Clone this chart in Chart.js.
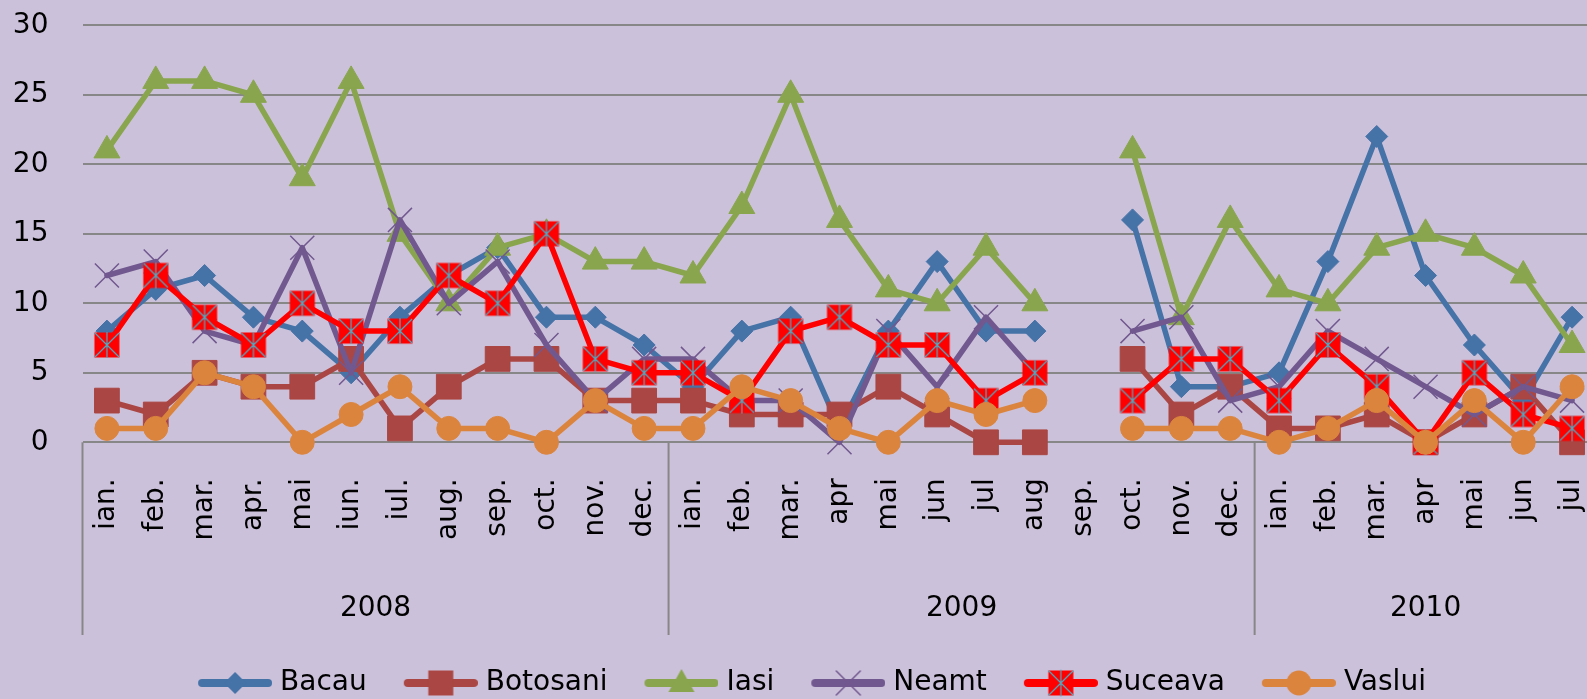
<!DOCTYPE html>
<html>
<head>
<meta charset="utf-8">
<script src="https://cdn.jsdelivr.net/npm/chart.js@4.4.1/dist/chart.umd.min.js"></script>
<style>
  html, body { margin: 0; padding: 0; background: #ccc1da; overflow: hidden; }
  #wrap { position: relative; width: 1615px; height: 699px; }
</style>
</head>
<body>
<div id="wrap"><canvas id="chart"></canvas></div>
<script>
// month labels, 2008 jan .. 2010 jul
const months = ['ian.', 'feb.', 'mar.', 'apr.', 'mai', 'iun.', 'iul.', 'aug.', 'sep.', 'oct.', 'nov.', 'dec.',
                'ian.', 'feb.', 'mar.', 'apr', 'mai', 'jun', 'jul', 'aug', 'sep.', 'oct.', 'nov.', 'dec.',
                'ian.', 'feb.', 'mar.', 'apr', 'mai', 'jun', 'jul'];
const years = ['2008', '2009', '2010'];
const yearLengths = [12, 12, 7];
const yTicks = [0, 5, 10, 15, 20, 25, 30];

const bacau    = [8, 11, 12, 9, 8, 5, 9, 12, 14, 9, 9, 7,   4, 8, 9, 1, 8, 13, 8, 8, null, 16, 4, 4,   5, 13, 22, 12, 7, 3, 9];
const botosani = [3, 2, 5, 4, 4, 6, 1, 4, 6, 6, 3, 3,      3, 2, 2, 2, 4, 2, 0, 0, null, 6, 2, 4,     1, 1, 2, 0, 2, 4, 0];
const iasi     = [21, 26, 26, 25, 19, 26, 15, 10, 14, 15, 13, 13,  12, 17, 25, 16, 11, 10, 14, 10, null, 21, 9, 16,  11, 10, 14, 15, 14, 12, 7];
const neamt    = [12, 13, 8, 7, 14, 5, 16, 10, 13, 7, 3, 6,  6, 3, 3, 0, 8, 4, 9, 5, null, 8, 9, 3,     4, 8, 6, 4, 2, 4, 3];
const suceava  = [7, 12, 9, 7, 10, 8, 8, 12, 10, 15, 6, 5,   5, 3, 8, 9, 7, 7, 3, 5, null, 3, 6, 6,     3, 7, 4, 0, 5, 2, 1];
const vaslui   = [1, 1, 5, 4, 0, 2, 4, 1, 1, 0, 3, 1,        1, 4, 3, 1, 0, 3, 2, 3, null, 1, 1, 1,     0, 1, 3, 0, 3, 0, 4];

const FONT = 'DejaVu Sans';
const TEAL = '#4bacc6';

function paintMarker(c, kind, x, y, color) {
    c.save();
    c.fillStyle = color;
    c.strokeStyle = color;
    c.beginPath();
    if (kind === 'diamond') {
        c.moveTo(x, y - 11); c.lineTo(x + 11, y); c.lineTo(x, y + 11); c.lineTo(x - 11, y);
        c.closePath(); c.fill();
    } else if (kind === 'square') {
        c.rect(x - 12.5, y - 12.5, 25, 25); c.fill();
    } else if (kind === 'triangle') {
        c.moveTo(x, y - 14); c.lineTo(x + 13, y + 9); c.lineTo(x - 13, y + 9);
        c.closePath(); c.fill();
    } else if (kind === 'cross') {
        c.lineWidth = 1.5;
        c.moveTo(x - 12, y - 12); c.lineTo(x + 12, y + 12);
        c.moveTo(x + 12, y - 12); c.lineTo(x - 12, y + 12);
        c.stroke();
    } else if (kind === 'star') {
        c.fillStyle = '#ff0000';
        c.fillRect(x - 12.5, y - 12.5, 25, 25);
        c.strokeStyle = TEAL;
        c.lineWidth = 1.2;
        c.moveTo(x - 12, y - 12); c.lineTo(x + 12, y + 12);
        c.moveTo(x + 12, y - 12); c.lineTo(x - 12, y + 12);
        c.moveTo(x, y - 13); c.lineTo(x, y + 13);
        c.stroke();
    } else if (kind === 'circle') {
        c.arc(x, y, 12.5, 0, Math.PI * 2); c.fill();
    }
    c.restore();
}

// red box marker with teal asterisk, used for Suceava points
const starImg = document.createElement('canvas');
starImg.width = 28; starImg.height = 28;
paintMarker(starImg.getContext('2d'), 'star', 14, 14, '#ff0000');

function legendIcon(kind, color) {
    const cv = document.createElement('canvas');
    cv.width = 107; cv.height = 30;
    const c = cv.getContext('2d');
    c.strokeStyle = color;
    c.lineWidth = 8;
    c.lineCap = 'round';
    c.beginPath(); c.moveTo(37, 15); c.lineTo(103, 15); c.stroke();
    paintMarker(c, kind, 70, 15, color);
    return cv;
}

const seriesDefs = [
    { label: 'Bacau',    data: bacau,    color: '#4572a7', kind: 'diamond',  style: 'rectRot',  radius: 11 },
    { label: 'Botosani', data: botosani, color: '#aa4643', kind: 'square',   style: 'rect',     radius: 17.5 },
    { label: 'Iasi',     data: iasi,     color: '#89a54e', kind: 'triangle', style: 'triangle', radius: 15 },
    { label: 'Neamt',    data: neamt,    color: '#71588f', kind: 'cross',    style: 'crossRot', radius: 17 },
    { label: 'Suceava',  data: suceava,  color: '#ff0000', kind: 'star',     style: starImg,    radius: 12 },
    { label: 'Vaslui',   data: vaslui,   color: '#db843d', kind: 'circle',   style: 'circle',   radius: 12 }
];
const legendIcons = seriesDefs.map(s => legendIcon(s.kind, s.color));

const datasets = seriesDefs.map((s, i) => ({
    label: s.label,
    data: s.data,
    borderColor: s.color,
    backgroundColor: s.color,
    borderWidth: 5.5,
    borderJoinStyle: 'round',
    borderCapStyle: 'round',
    pointStyle: s.style,
    pointRadius: s.radius,
    pointBorderWidth: s.kind === 'cross' ? 1.5 : 1,
    pointBackgroundColor: s.color,
    pointBorderColor: s.color,
    spanGaps: false,
    clip: false,
    order: seriesDefs.length - i
}));

// year row under the month labels, with the group separators
const yearRow = {
    id: 'yearRow',
    afterLayout(chart) {
        // the canvas is a bit wider than the window, pull the legend back to the visible centre
        chart.legend.left -= 9;
        chart.legend.right -= 9;
    },
    afterDraw(chart) {
        const ctx = chart.ctx;
        const x = chart.scales.x;
        const top = chart.chartArea.bottom;
        const half = (x.getPixelForValue(1) - x.getPixelForValue(0)) / 2;
        ctx.save();
        ctx.strokeStyle = '#878787';
        ctx.lineWidth = 2;
        ctx.fillStyle = '#000';
        ctx.font = '28px "' + FONT + '"';
        ctx.textAlign = 'center';
        ctx.textBaseline = 'middle';
        let start = 0;
        years.forEach((yr, k) => {
            const end = start + yearLengths[k] - 1;
            const left = x.getPixelForValue(start) - half;
            const right = x.getPixelForValue(end) + half;
            ctx.beginPath();
            ctx.moveTo(left, top); ctx.lineTo(left, 635);
            if (k === years.length - 1) { ctx.moveTo(right, top); ctx.lineTo(right, 635); }
            ctx.stroke();
            ctx.fillText(yr, (left + right) / 2, 609);
            start = end + 1;
        });
        ctx.restore();
    }
};

new Chart(document.getElementById('chart'), {
    type: 'line',
    data: { labels: months, datasets: datasets },
    plugins: [yearRow],
    options: {
        responsive: true,
        maintainAspectRatio: false,
        animation: false,
        layout: { padding: { top: 25.3, right: 0, bottom: -8, left: 0 } },
        scales: {
            x: {
                offset: true,
                grid: { display: false, drawTicks: false },
                border: { display: false },
                ticks: {
                    autoSkip: false,
                    minRotation: 90,
                    maxRotation: 90,
                    padding: 36,
                    color: '#000',
                    font: { family: FONT, size: 28 }
                },
                afterFit(scale) {
                    scale.height = 216.7;
                    scale.paddingLeft = 0;
                    scale.paddingRight = 0;
                }
            },
            y: {
                min: 0,
                max: 30,
                afterBuildTicks(scale) { scale.ticks = yTicks.map(v => ({ value: v })); },
                grid: { color: '#878787', lineWidth: 2, drawTicks: false },
                border: { display: false },
                ticks: {
                    padding: 34,
                    color: '#000',
                    font: { family: FONT, size: 28 }
                },
                afterFit(scale) {
                    scale.width = 82.5;
                    scale.paddingTop = 0;
                    scale.paddingBottom = 0;
                }
            }
        },
        plugins: {
            tooltip: { enabled: false },
            legend: {
                position: 'bottom',
                labels: {
                    usePointStyle: true,
                    pointStyleWidth: 95,
                    padding: 10,
                    color: '#000',
                    font: { family: FONT, size: 28 },
                    generateLabels(chart) {
                        return chart.data.datasets.map((ds, i) => ({
                            text: ds.label,
                            pointStyle: legendIcons[i],
                            fillStyle: ds.borderColor,
                            strokeStyle: ds.borderColor,
                            lineWidth: 0,
                            hidden: false,
                            datasetIndex: i,
                            fontColor: '#000'
                        }));
                    }
                }
            }
        }
    }
});
</script>
</body>
</html>
